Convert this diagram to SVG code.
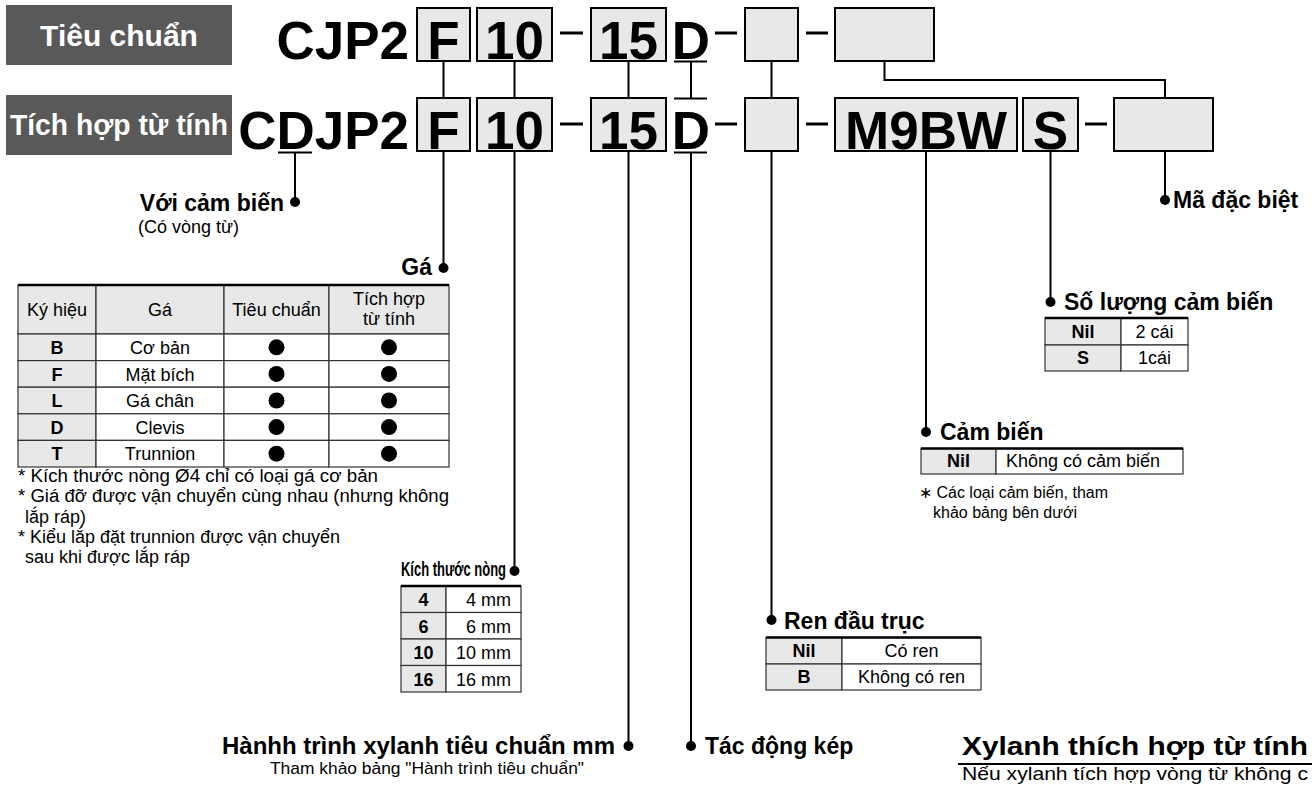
<svg xmlns="http://www.w3.org/2000/svg" width="1312" height="787" viewBox="0 0 1312 787">
<style>
text{font-family:"Liberation Sans",Arial,sans-serif;fill:#000}
.code{font-size:53px;font-weight:bold}
.box{fill:#e8e8e8;stroke:#000;stroke-width:2}
.lab{fill:#595959}
.lt{font-size:30px;font-weight:bold;fill:#fff}
.h{font-size:23px;font-weight:bold}
.t{font-size:18px}
.tb{font-size:18px;font-weight:bold}
.n{font-size:16px}
.c{text-anchor:middle}
.e{text-anchor:end}
.ln{stroke:#000;stroke-width:2;fill:none}
.dash{stroke:#000;stroke-width:3}
.cell{fill:#fff;stroke:#333;stroke-width:1.2}
.g{fill:#e8e8e8;stroke:#333;stroke-width:1.2}
.top{stroke:#000;stroke-width:2.5}
</style>

<g id="label-standard">
<rect class="lab" x="6" y="5" width="226" height="60"/>
<text class="lt c" x="119" y="46">Tiêu chuẩn</text>
</g>
<g id="label-magnetic">
<rect class="lab" x="6" y="95" width="226" height="60"/>
<text class="lt" x="10" y="135" textLength="218" lengthAdjust="spacingAndGlyphs">Tích hợp từ tính</text>
</g>

<g id="code-top">
<text class="code e" x="409" y="59">CJP2</text>
<rect class="box" x="417" y="8" width="53" height="53"/>
<text class="code c" x="443.5" y="59">F</text>
<rect class="box" x="477" y="8" width="75" height="53"/>
<text class="code c" x="514.5" y="59">10</text>
<line class="dash" x1="560" y1="33" x2="583" y2="33"/>
<rect class="box" x="591" y="8" width="75" height="53"/>
<text class="code c" x="628.5" y="59">15</text>
<text class="code c" x="691" y="59">D</text>
<line class="dash" x1="715" y1="33" x2="737" y2="33"/>
<rect class="box" x="745" y="8" width="53" height="53"/>
<line class="dash" x1="806" y1="33" x2="828" y2="33"/>
<rect class="box" x="835" y="8" width="99" height="53"/>
</g>

<g id="code-bottom">
<text class="code e" x="409" y="149">CDJP2</text>
<rect class="box" x="417" y="98" width="53" height="53"/>
<text class="code c" x="443.5" y="149">F</text>
<rect class="box" x="477" y="98" width="75" height="53"/>
<text class="code c" x="514.5" y="149">10</text>
<line class="dash" x1="560" y1="124" x2="583" y2="124"/>
<rect class="box" x="591" y="98" width="75" height="53"/>
<text class="code c" x="628.5" y="149">15</text>
<text class="code c" x="691" y="149">D</text>
<line class="dash" x1="715" y1="124" x2="737" y2="124"/>
<rect class="box" x="745" y="98" width="53" height="53"/>
<line class="dash" x1="806" y1="124" x2="828" y2="124"/>
<rect class="box" x="835" y="98" width="182" height="53"/>
<text class="code c" x="926" y="149">M9BW</text>
<rect class="box" x="1023" y="98" width="55" height="53"/>
<text class="code c" x="1050.5" y="149">S</text>
<line class="dash" x1="1085" y1="124" x2="1107" y2="124"/>
<rect class="box" x="1114" y="98" width="99" height="53"/>
</g>

<g id="connectors">
<path class="ln" d="M674,61.5H707M674,98.5H707M691,61.5V98.5"/>
<path class="ln" d="M443.5,61V98M514.5,61V98M628.5,61V98M771.5,61V98M884.5,61V80H1165V98"/>
<path class="ln" d="M278,152.5H312M295,152.5V202"/>
<path class="ln" d="M674,152.5H707"/>
<path class="ln" d="M443.5,151V268M514.5,151V571M628.5,151V746M691,152.5V746M771.5,151V620M926,151V432M1050.5,151V302M1165,151V200"/>
<g fill="#000">
<circle cx="295" cy="202" r="5"/>
<circle cx="443.5" cy="268" r="5"/>
<circle cx="514.5" cy="571" r="5"/>
<circle cx="628.5" cy="746" r="5"/>
<circle cx="691" cy="746" r="5"/>
<circle cx="771.5" cy="620" r="5"/>
<circle cx="926" cy="432" r="5"/>
<circle cx="1050.5" cy="302" r="5"/>
<circle cx="1165" cy="200" r="5"/>
</g>
</g>

<g id="with-sensor">
<text class="h e" x="284" y="211">Với cảm biến</text>
<text class="t" x="138" y="233">(Có vòng từ)</text>
</g>

<g id="mounting">
<text class="h e" x="432" y="275">Gá</text>
<rect class="g" x="18" y="285" width="78" height="49"/>
<rect class="g" x="96" y="285" width="128" height="49"/>
<rect class="g" x="224" y="285" width="105" height="49"/>
<rect class="g" x="329" y="285" width="120" height="49"/>
<g>
<rect class="g" x="18" y="334" width="78" height="26.6"/><rect class="cell" x="96" y="334" width="128" height="26.6"/><rect class="cell" x="224" y="334" width="105" height="26.6"/><rect class="cell" x="329" y="334" width="120" height="26.6"/>
<rect class="g" x="18" y="360.6" width="78" height="26.6"/><rect class="cell" x="96" y="360.6" width="128" height="26.6"/><rect class="cell" x="224" y="360.6" width="105" height="26.6"/><rect class="cell" x="329" y="360.6" width="120" height="26.6"/>
<rect class="g" x="18" y="387.2" width="78" height="26.6"/><rect class="cell" x="96" y="387.2" width="128" height="26.6"/><rect class="cell" x="224" y="387.2" width="105" height="26.6"/><rect class="cell" x="329" y="387.2" width="120" height="26.6"/>
<rect class="g" x="18" y="413.8" width="78" height="26.6"/><rect class="cell" x="96" y="413.8" width="128" height="26.6"/><rect class="cell" x="224" y="413.8" width="105" height="26.6"/><rect class="cell" x="329" y="413.8" width="120" height="26.6"/>
<rect class="g" x="18" y="440.4" width="78" height="26.6"/><rect class="cell" x="96" y="440.4" width="128" height="26.6"/><rect class="cell" x="224" y="440.4" width="105" height="26.6"/><rect class="cell" x="329" y="440.4" width="120" height="26.6"/>
</g>
<line class="top" x1="18" y1="285" x2="449" y2="285"/>
<text class="t c" x="57" y="316">Ký hiệu</text>
<text class="t c" x="160" y="316">Gá</text>
<text class="t c" x="276.5" y="316">Tiêu chuẩn</text>
<text class="t c" x="389" y="305">Tích hợp</text>
<text class="t c" x="389" y="325">từ tính</text>
<text class="tb c" x="57" y="354">B</text><text class="t c" x="160" y="354">Cơ bản</text>
<text class="tb c" x="57" y="380.6">F</text><text class="t c" x="160" y="380.6">Mặt bích</text>
<text class="tb c" x="57" y="407.2">L</text><text class="t c" x="160" y="407.2">Gá chân</text>
<text class="tb c" x="57" y="433.8">D</text><text class="t c" x="160" y="433.8">Clevis</text>
<text class="tb c" x="57" y="460.4">T</text><text class="t c" x="160" y="460.4">Trunnion</text>
<g fill="#000">
<circle cx="276.5" cy="347.3" r="8"/><circle cx="389" cy="347.3" r="8"/>
<circle cx="276.5" cy="373.9" r="8"/><circle cx="389" cy="373.9" r="8"/>
<circle cx="276.5" cy="400.5" r="8"/><circle cx="389" cy="400.5" r="8"/>
<circle cx="276.5" cy="427.1" r="8"/><circle cx="389" cy="427.1" r="8"/>
<circle cx="276.5" cy="453.7" r="8"/><circle cx="389" cy="453.7" r="8"/>
</g>
<text class="t" x="18" y="482" textLength="360" lengthAdjust="spacingAndGlyphs">* Kích thước nòng Ø4 chỉ có loại gá cơ bản</text>
<text class="t" x="18" y="502" textLength="431" lengthAdjust="spacingAndGlyphs">* Giá đỡ được vận chuyển cùng nhau (nhưng không</text>
<text class="t" x="25" y="523">lắp ráp)</text>
<text class="t" x="18" y="543">* Kiểu lắp đặt trunnion được vận chuyển</text>
<text class="t" x="25" y="563">sau khi được lắp ráp</text>
</g>

<g id="bore-size">
<text x="401" y="576" font-size="19.5" font-weight="bold" textLength="105" lengthAdjust="spacingAndGlyphs">Kích thước nòng</text>
<rect class="g" x="401" y="586" width="45" height="26.5"/><rect class="cell" x="446" y="586" width="75" height="26.5"/>
<rect class="g" x="401" y="612.5" width="45" height="26.5"/><rect class="cell" x="446" y="612.5" width="75" height="26.5"/>
<rect class="g" x="401" y="639" width="45" height="26.5"/><rect class="cell" x="446" y="639" width="75" height="26.5"/>
<rect class="g" x="401" y="665.5" width="45" height="26.5"/><rect class="cell" x="446" y="665.5" width="75" height="26.5"/>
<line class="top" x1="401" y1="586" x2="521" y2="586"/>
<text class="tb c" x="423.5" y="606">4</text><text class="t e" x="511" y="606">4 mm</text>
<text class="tb c" x="423.5" y="632.5">6</text><text class="t e" x="511" y="632.5">6 mm</text>
<text class="tb c" x="423.5" y="659">10</text><text class="t e" x="511" y="659">10 mm</text>
<text class="tb c" x="423.5" y="685.5">16</text><text class="t e" x="511" y="685.5">16 mm</text>
</g>

<g id="stroke">
<text class="h" x="222" y="754" textLength="393" lengthAdjust="spacingAndGlyphs">Hànhh trình xylanh tiêu chuẩn mm</text>
<text x="270" y="774" font-size="17" textLength="314" lengthAdjust="spacingAndGlyphs">Tham khảo bảng "Hành trình tiêu chuẩn"</text>
</g>

<g id="double-acting">
<text class="h" x="705" y="754">Tác động kép</text>
</g>

<g id="rod-end">
<text class="h" x="784" y="629">Ren đầu trục</text>
<rect class="g" x="766" y="637.5" width="76" height="26.5"/><rect class="cell" x="842" y="637.5" width="139" height="26.5"/>
<rect class="g" x="766" y="664" width="76" height="26"/><rect class="cell" x="842" y="664" width="139" height="26"/>
<line class="top" x1="766" y1="637.5" x2="981" y2="637.5"/>
<text class="tb c" x="804" y="657">Nil</text><text class="t c" x="911.5" y="657">Có ren</text>
<text class="tb c" x="804" y="683">B</text><text class="t c" x="911.5" y="683">Không có ren</text>
</g>

<g id="sensor">
<text class="h" x="940" y="440">Cảm biến</text>
<rect class="g" x="921" y="448.5" width="75" height="25.5"/><rect class="cell" x="996" y="448.5" width="187" height="25.5"/>
<line class="top" x1="921" y1="448.5" x2="1183" y2="448.5"/>
<text class="tb c" x="958.5" y="467">Nil</text>
<text class="t" x="1006" y="467">Không có cảm biến</text>
<text class="n" x="919" y="498">∗ Các loại cảm biến, tham</text>
<text class="n" x="933" y="518">khảo bảng bên dưới</text>
</g>

<g id="sensor-qty">
<text class="h" x="1064" y="310">Số lượng cảm biến</text>
<rect class="g" x="1045" y="318" width="76" height="27"/><rect class="cell" x="1121" y="318" width="67" height="27"/>
<rect class="g" x="1045" y="345" width="76" height="26"/><rect class="cell" x="1121" y="345" width="67" height="26"/>
<line class="top" x1="1045" y1="318" x2="1188" y2="318"/>
<text class="tb c" x="1083" y="338">Nil</text><text class="t c" x="1154.5" y="338">2 cái</text>
<text class="tb c" x="1083" y="364">S</text><text class="t c" x="1154.5" y="364">1cái</text>
</g>

<g id="special">
<text class="h" x="1173" y="208">Mã đặc biệt</text>
</g>

<g id="note-magnetic">
<text x="962" y="755" font-size="26" font-weight="bold" textLength="346" lengthAdjust="spacingAndGlyphs">Xylanh thích hợp từ tính</text>
<line x1="958" y1="764" x2="1312" y2="764" stroke="#000" stroke-width="2"/>
<text x="962" y="780" font-size="18.5" textLength="346" lengthAdjust="spacingAndGlyphs">Nếu xylanh tích hợp vòng từ không c</text>
</g>
</svg>
